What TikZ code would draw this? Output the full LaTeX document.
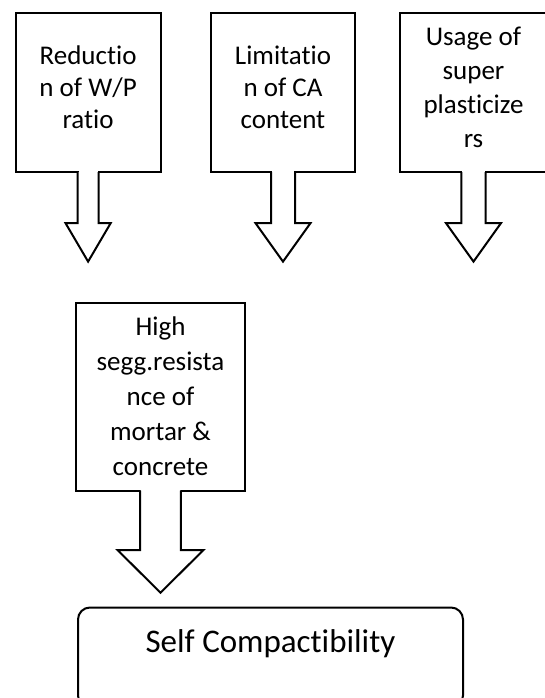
\documentclass[tikz,border=0pt]{standalone}
\usepackage{fontspec}
\setmainfont[Ligatures=NoCommon]{Carlito}
\usetikzlibrary{calc}
\tikzset{
  boxstyle/.style={draw=black, line width=2pt, fill=white, outer sep=0pt, inner sep=0pt,
    align=center, font=\fontsize{27}{32}\selectfont},
  arrowline/.style={draw=black, line width=2pt, fill=white, line join=miter},
  labelstyle/.style={inner sep=0pt, font=\fontsize{33}{40}\selectfont}
}
% #1 box name, #2 shaft half-width, #3 head half-width, #4 shaft length, #5 head length
\newcommand{\blockarrow}[5]{%
  \fill[white] ($(#1.south)+(-#2+1,-1.6)$) rectangle ($(#1.south)+(#2-1,1)$);
  \draw[arrowline] ($(#1.south)+(-#2,0)$) -- ($(#1.south)+(-#2,#4)$)
    -- ($(#1.south)+(-#3,#4)$) -- ($(#1.south)+(0,#4+#5)$)
    -- ($(#1.south)+(#3,#4)$) -- ($(#1.south)+(#2,#4)$) -- ($(#1.south)+(#2,0)$);
}
\newcommand{\liftstrut}{\rule[-10pt]{0pt}{0pt}}
\begin{document}
\begin{tikzpicture}[x=1pt,y=-1pt]
\useasboundingbox (0,0) rectangle (545,698);
\clip (0,0) rectangle (545,698);
\fill[white] (0,0) rectangle (545,698);

\node[boxstyle, minimum width=145pt, minimum height=159pt] (b1) at (88.1,92.6)
  {Reductio\\n of W/P\\ratio\liftstrut};
\node[boxstyle, minimum width=144pt, minimum height=159pt] (b2) at (283,92.6)
  {Limitatio\\n of CA\\content\liftstrut};
\node[boxstyle, minimum width=147pt, minimum height=159pt, font=\fontsize{27}{34}\selectfont] (b3) at (473.5,92.6)
  {Usage of\\super\\plasticize\\rs\liftstrut};

\blockarrow{b1}{10.6}{22.6}{51}{38.5}
\blockarrow{b2}{12}{27.5}{51}{38.5}
\blockarrow{b3}{12.2}{27.5}{51}{38.5}

\node[boxstyle, minimum width=169pt, minimum height=188pt, font=\fontsize{27}{35}\selectfont] (b4) at (160.5,396.7)
  {High\\segg.resista\\nce of\\mortar \&\\concrete};

\node[draw=black, line width=2pt, rounded corners=12pt, outer sep=0pt,
  minimum width=385pt, minimum height=100pt] (b5) at (270.5,657.5) {};
\node[labelstyle] (t5) at (270.5,644) {Self Compactibility};

\blockarrow{b4}{20.3}{43}{59.3}{42.7}
\end{tikzpicture}
\end{document}
